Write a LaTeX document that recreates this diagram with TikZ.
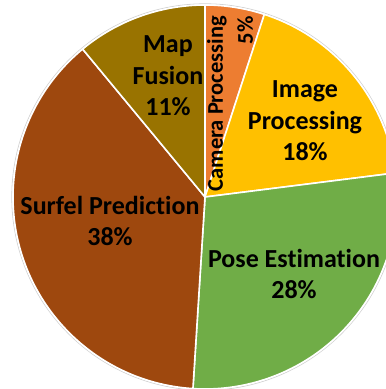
\documentclass[tikz,border=0pt]{standalone}
\usepackage{fontspec}
\setmainfont{Carlito}[Ligatures={NoCommon}]
\definecolor{camOrange}{HTML}{ED7D31}
\definecolor{imgGold}{HTML}{FFC000}
\definecolor{poseGreen}{HTML}{70AD47}
\definecolor{surfBrown}{HTML}{9E480E}
\definecolor{mapOlive}{HTML}{997300}
\begin{document}
\begin{tikzpicture}[x=1pt,y=1pt,
  slice/.style={draw=white, line width=1.6pt, line join=round},
  lbl/.style={font=\bfseries\fontsize{26}{31.5}\selectfont, align=center, text=black, inner sep=0pt},
  smalllbl/.style={font=\bfseries\fontsize{22.5}{30}\selectfont, align=right, text=black, inner sep=0pt}]
\useasboundingbox (0,0) rectangle (386,389);
\clip (0,0) rectangle (386,389);
\coordinate (c) at (205,192);
\def\R{192}
% faint rim around the whole pie
\draw[gray!35, line width=0.8pt] (c) circle[radius=\R+1.2];
% slices, clockwise from the top
\filldraw[slice, fill=camOrange]  (c) -- ++(90:\R)     arc[start angle=90,     end angle=72,     radius=\R] -- cycle;
\filldraw[slice, fill=imgGold]    (c) -- ++(72:\R)     arc[start angle=72,     end angle=7.2,    radius=\R] -- cycle;
\filldraw[slice, fill=poseGreen]  (c) -- ++(7.2:\R)    arc[start angle=7.2,    end angle=-93.6,  radius=\R] -- cycle;
\filldraw[slice, fill=surfBrown]  (c) -- ++(-93.6:\R)  arc[start angle=-93.6,  end angle=-230.4, radius=\R] -- cycle;
\filldraw[slice, fill=mapOlive]   (c) -- ++(129.6:\R)  arc[start angle=129.6,  end angle=90,     radius=\R] -- cycle;
% labels
\node[lbl] (map)  at (168,313) {Map\\Fusion\\11\%};
\node[lbl] (img)  at (305,268) {Image\\Processing\\18\%};
\node[lbl] (pose) at (294,115) {Pose Estimation\\28\%};
\node[lbl] (surf) at (110,168) {Surfel Prediction\\38\%};
\node[smalllbl, rotate=90, anchor=east] (cam) at (230,373) {Camera Processing\\5\%};
\end{tikzpicture}
\end{document}
